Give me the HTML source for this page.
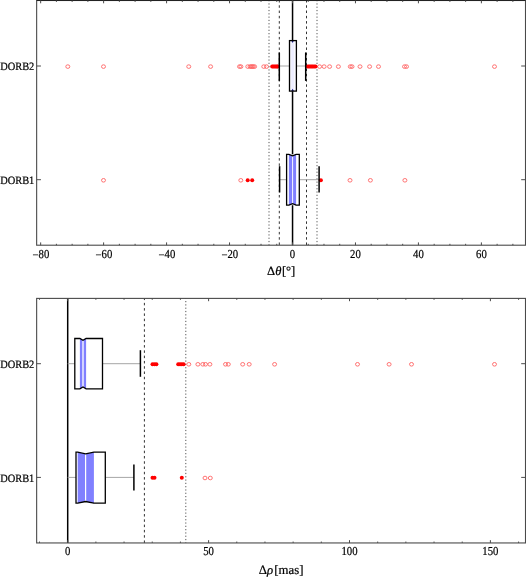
<!DOCTYPE html>
<html><head><meta charset="utf-8"><style>
html,body{margin:0;padding:0;background:#fff;}
body{width:526px;height:577px;overflow:hidden;}
svg{display:block;will-change:transform;}
text{font-family:"Liberation Serif",serif;fill:#000;stroke:#000;stroke-width:0.22px;text-rendering:geometricPrecision;}
</style></head><body>
<svg width="526" height="577" viewBox="0 0 526 577">
<line x1="269" y1="0.5" x2="269" y2="245.2" stroke="#555" stroke-width="1.0" stroke-dasharray="1.2 2.1" stroke-dashoffset="0.45"/>
<line x1="317" y1="0.5" x2="317" y2="245.2" stroke="#555" stroke-width="1.0" stroke-dasharray="1.2 2.1" stroke-dashoffset="0.45"/>
<line x1="279.3" y1="0.5" x2="279.3" y2="245.2" stroke="#333" stroke-width="1.0" stroke-dasharray="2.5 2.77" stroke-dashoffset="0.48"/>
<line x1="306.5" y1="0.5" x2="306.5" y2="245.2" stroke="#333" stroke-width="1.0" stroke-dasharray="2.5 2.77" stroke-dashoffset="0.48"/>
<line x1="292.55" y1="0.5" x2="292.55" y2="245.2" stroke="#000" stroke-width="1.5"/>
<line x1="279.3" y1="66" x2="305.7" y2="66" stroke="#a6a6a6" stroke-width="1.0"/>
<ellipse cx="67.8" cy="66.6" rx="2.0" ry="1.8" fill="none" stroke="#ff6464" stroke-width="0.9"/>
<ellipse cx="103.5" cy="66.6" rx="2.0" ry="1.8" fill="none" stroke="#ff6464" stroke-width="0.9"/>
<ellipse cx="188.75" cy="66.6" rx="2.0" ry="1.8" fill="none" stroke="#ff6464" stroke-width="0.9"/>
<ellipse cx="210.6" cy="66.6" rx="2.0" ry="1.8" fill="none" stroke="#ff6464" stroke-width="0.9"/>
<ellipse cx="239.5" cy="66.6" rx="2.0" ry="1.8" fill="none" stroke="#ff6464" stroke-width="0.9"/>
<ellipse cx="240.9" cy="66.6" rx="2.0" ry="1.8" fill="none" stroke="#ff6464" stroke-width="0.9"/>
<ellipse cx="247.8" cy="66.6" rx="2.0" ry="1.8" fill="none" stroke="#ff6464" stroke-width="0.9"/>
<ellipse cx="250.1" cy="66.6" rx="2.0" ry="1.8" fill="none" stroke="#ff6464" stroke-width="0.9"/>
<ellipse cx="251.3" cy="66.6" rx="2.0" ry="1.8" fill="none" stroke="#ff6464" stroke-width="0.9"/>
<ellipse cx="252.3" cy="66.6" rx="2.0" ry="1.8" fill="none" stroke="#ff6464" stroke-width="0.9"/>
<ellipse cx="253.3" cy="66.6" rx="2.0" ry="1.8" fill="none" stroke="#ff6464" stroke-width="0.9"/>
<ellipse cx="254.6" cy="66.6" rx="2.0" ry="1.8" fill="none" stroke="#ff6464" stroke-width="0.9"/>
<ellipse cx="263.8" cy="66.6" rx="2.0" ry="1.8" fill="none" stroke="#ff6464" stroke-width="0.9"/>
<ellipse cx="266.5" cy="66.6" rx="2.0" ry="1.8" fill="none" stroke="#ff6464" stroke-width="0.9"/>
<ellipse cx="319.6" cy="66.6" rx="2.0" ry="1.8" fill="none" stroke="#ff6464" stroke-width="0.9"/>
<ellipse cx="324.1" cy="66.6" rx="2.0" ry="1.8" fill="none" stroke="#ff6464" stroke-width="0.9"/>
<ellipse cx="329.6" cy="66.6" rx="2.0" ry="1.8" fill="none" stroke="#ff6464" stroke-width="0.9"/>
<ellipse cx="338.4" cy="66.6" rx="2.0" ry="1.8" fill="none" stroke="#ff6464" stroke-width="0.9"/>
<ellipse cx="350.3" cy="66.6" rx="2.0" ry="1.8" fill="none" stroke="#ff6464" stroke-width="0.9"/>
<ellipse cx="352" cy="66.6" rx="2.0" ry="1.8" fill="none" stroke="#ff6464" stroke-width="0.9"/>
<ellipse cx="360" cy="66.6" rx="2.0" ry="1.8" fill="none" stroke="#ff6464" stroke-width="0.9"/>
<ellipse cx="369.6" cy="66.6" rx="2.0" ry="1.8" fill="none" stroke="#ff6464" stroke-width="0.9"/>
<ellipse cx="378.5" cy="66.6" rx="2.0" ry="1.8" fill="none" stroke="#ff6464" stroke-width="0.9"/>
<ellipse cx="404.5" cy="66.6" rx="2.0" ry="1.8" fill="none" stroke="#ff6464" stroke-width="0.9"/>
<ellipse cx="406.5" cy="66.6" rx="2.0" ry="1.8" fill="none" stroke="#ff6464" stroke-width="0.9"/>
<ellipse cx="494.5" cy="66.6" rx="2.0" ry="1.8" fill="none" stroke="#ff6464" stroke-width="0.9"/>
<circle cx="272.2" cy="66.45" r="2" fill="#ff0000"/>
<circle cx="273.4" cy="66.45" r="2" fill="#ff0000"/>
<circle cx="274.6" cy="66.45" r="2" fill="#ff0000"/>
<circle cx="275.8" cy="66.45" r="2" fill="#ff0000"/>
<circle cx="277" cy="66.45" r="2" fill="#ff0000"/>
<circle cx="277.7" cy="66.45" r="2" fill="#ff0000"/>
<circle cx="307.7" cy="66.45" r="2" fill="#ff0000"/>
<circle cx="309" cy="66.45" r="2" fill="#ff0000"/>
<circle cx="310.3" cy="66.45" r="2" fill="#ff0000"/>
<circle cx="311.6" cy="66.45" r="2" fill="#ff0000"/>
<circle cx="312.9" cy="66.45" r="2" fill="#ff0000"/>
<circle cx="314.2" cy="66.45" r="2" fill="#ff0000"/>
<circle cx="315.5" cy="66.45" r="2" fill="#ff0000"/>
<line x1="279.3" y1="52.4" x2="279.3" y2="80.9" stroke="#000" stroke-width="1.5"/>
<line x1="305.7" y1="52.4" x2="305.7" y2="80.9" stroke="#000" stroke-width="1.5"/>
<rect x="289.5" y="40.6" width="6.9" height="50.5" fill="#f9f9ff"/>
<rect x="291.3" y="40.6" width="2.6" height="50.5" fill="#ededff"/>
<path d="M291.3,40.6 L292.6,42.9 L293.9,40.6 Z" fill="#1c1c88"/>
<path d="M291.3,91.1 L292.6,88.8 L293.9,91.1 Z" fill="#1c1c88"/>
<rect x="289.5" y="40.6" width="6.9" height="50.5" fill="none" stroke="#000" stroke-width="1.3"/>
<line x1="279.6" y1="179.7" x2="319.1" y2="179.7" stroke="#a6a6a6" stroke-width="1.0"/>
<ellipse cx="103.5" cy="180.3" rx="2.0" ry="1.8" fill="none" stroke="#ff6464" stroke-width="0.9"/>
<ellipse cx="240.8" cy="180.3" rx="2.0" ry="1.8" fill="none" stroke="#ff6464" stroke-width="0.9"/>
<ellipse cx="350" cy="180.3" rx="2.0" ry="1.8" fill="none" stroke="#ff6464" stroke-width="0.9"/>
<ellipse cx="370.4" cy="180.3" rx="2.0" ry="1.8" fill="none" stroke="#ff6464" stroke-width="0.9"/>
<ellipse cx="404.9" cy="180.3" rx="2.0" ry="1.8" fill="none" stroke="#ff6464" stroke-width="0.9"/>
<circle cx="247.7" cy="180.15" r="2" fill="#ff0000"/>
<circle cx="252.2" cy="180.15" r="2" fill="#ff0000"/>
<circle cx="320.9" cy="180.15" r="2" fill="#ff0000"/>
<line x1="279.6" y1="166.2" x2="279.6" y2="192.5" stroke="#000" stroke-width="1.5"/>
<line x1="319.1" y1="166.2" x2="319.1" y2="192.5" stroke="#000" stroke-width="1.5"/>
<rect x="286.6" y="154.3" width="12.7" height="50.9" fill="#fff"/>
<path d="M288.9,154.3 L292.6,155.9 L296.1,154.3 L296.1,205.2 L292.6,203.6 L288.9,205.2 Z" fill="#8080ff"/>
<line x1="292.6" y1="155.9" x2="292.6" y2="203.6" stroke="#fff" stroke-width="0.95"/>
<path d="M286.6,154.3 L288.9,154.3 L292.6,155.9 L296.1,154.3 L299.3,154.3 L299.3,205.2 L296.1,205.2 L292.6,203.6 L288.9,205.2 L286.6,205.2 Z" fill="none" stroke="#000" stroke-width="1.3" stroke-linejoin="miter"/>
<rect x="36.65" y="0.5" width="488.85" height="244.7" fill="none" stroke="#4a4a4a" stroke-width="1.1"/>
<line x1="36.65" y1="0.5" x2="525.5" y2="0.5" stroke="#222" stroke-width="1.0"/>
<line x1="40.66" y1="245.2" x2="40.66" y2="242.4" stroke="#4a4a4a" stroke-width="1"/>
<line x1="40.66" y1="0.5" x2="40.66" y2="3.3" stroke="#4a4a4a" stroke-width="1"/>
<line x1="56.4" y1="245.2" x2="56.4" y2="243.8" stroke="#4a4a4a" stroke-width="1"/>
<line x1="56.4" y1="0.5" x2="56.4" y2="1.9" stroke="#4a4a4a" stroke-width="1"/>
<line x1="72.14" y1="245.2" x2="72.14" y2="243.8" stroke="#4a4a4a" stroke-width="1"/>
<line x1="72.14" y1="0.5" x2="72.14" y2="1.9" stroke="#4a4a4a" stroke-width="1"/>
<line x1="87.88" y1="245.2" x2="87.88" y2="243.8" stroke="#4a4a4a" stroke-width="1"/>
<line x1="87.88" y1="0.5" x2="87.88" y2="1.9" stroke="#4a4a4a" stroke-width="1"/>
<line x1="103.62" y1="245.2" x2="103.62" y2="242.4" stroke="#4a4a4a" stroke-width="1"/>
<line x1="103.62" y1="0.5" x2="103.62" y2="3.3" stroke="#4a4a4a" stroke-width="1"/>
<line x1="119.36" y1="245.2" x2="119.36" y2="243.8" stroke="#4a4a4a" stroke-width="1"/>
<line x1="119.36" y1="0.5" x2="119.36" y2="1.9" stroke="#4a4a4a" stroke-width="1"/>
<line x1="135.1" y1="245.2" x2="135.1" y2="243.8" stroke="#4a4a4a" stroke-width="1"/>
<line x1="135.1" y1="0.5" x2="135.1" y2="1.9" stroke="#4a4a4a" stroke-width="1"/>
<line x1="150.84" y1="245.2" x2="150.84" y2="243.8" stroke="#4a4a4a" stroke-width="1"/>
<line x1="150.84" y1="0.5" x2="150.84" y2="1.9" stroke="#4a4a4a" stroke-width="1"/>
<line x1="166.58" y1="245.2" x2="166.58" y2="242.4" stroke="#4a4a4a" stroke-width="1"/>
<line x1="166.58" y1="0.5" x2="166.58" y2="3.3" stroke="#4a4a4a" stroke-width="1"/>
<line x1="182.32" y1="245.2" x2="182.32" y2="243.8" stroke="#4a4a4a" stroke-width="1"/>
<line x1="182.32" y1="0.5" x2="182.32" y2="1.9" stroke="#4a4a4a" stroke-width="1"/>
<line x1="198.06" y1="245.2" x2="198.06" y2="243.8" stroke="#4a4a4a" stroke-width="1"/>
<line x1="198.06" y1="0.5" x2="198.06" y2="1.9" stroke="#4a4a4a" stroke-width="1"/>
<line x1="213.8" y1="245.2" x2="213.8" y2="243.8" stroke="#4a4a4a" stroke-width="1"/>
<line x1="213.8" y1="0.5" x2="213.8" y2="1.9" stroke="#4a4a4a" stroke-width="1"/>
<line x1="229.54" y1="245.2" x2="229.54" y2="242.4" stroke="#4a4a4a" stroke-width="1"/>
<line x1="229.54" y1="0.5" x2="229.54" y2="3.3" stroke="#4a4a4a" stroke-width="1"/>
<line x1="245.28" y1="245.2" x2="245.28" y2="243.8" stroke="#4a4a4a" stroke-width="1"/>
<line x1="245.28" y1="0.5" x2="245.28" y2="1.9" stroke="#4a4a4a" stroke-width="1"/>
<line x1="261.02" y1="245.2" x2="261.02" y2="243.8" stroke="#4a4a4a" stroke-width="1"/>
<line x1="261.02" y1="0.5" x2="261.02" y2="1.9" stroke="#4a4a4a" stroke-width="1"/>
<line x1="276.76" y1="245.2" x2="276.76" y2="243.8" stroke="#4a4a4a" stroke-width="1"/>
<line x1="276.76" y1="0.5" x2="276.76" y2="1.9" stroke="#4a4a4a" stroke-width="1"/>
<line x1="292.5" y1="245.2" x2="292.5" y2="242.4" stroke="#4a4a4a" stroke-width="1"/>
<line x1="292.5" y1="0.5" x2="292.5" y2="3.3" stroke="#4a4a4a" stroke-width="1"/>
<line x1="308.24" y1="245.2" x2="308.24" y2="243.8" stroke="#4a4a4a" stroke-width="1"/>
<line x1="308.24" y1="0.5" x2="308.24" y2="1.9" stroke="#4a4a4a" stroke-width="1"/>
<line x1="323.98" y1="245.2" x2="323.98" y2="243.8" stroke="#4a4a4a" stroke-width="1"/>
<line x1="323.98" y1="0.5" x2="323.98" y2="1.9" stroke="#4a4a4a" stroke-width="1"/>
<line x1="339.72" y1="245.2" x2="339.72" y2="243.8" stroke="#4a4a4a" stroke-width="1"/>
<line x1="339.72" y1="0.5" x2="339.72" y2="1.9" stroke="#4a4a4a" stroke-width="1"/>
<line x1="355.46" y1="245.2" x2="355.46" y2="242.4" stroke="#4a4a4a" stroke-width="1"/>
<line x1="355.46" y1="0.5" x2="355.46" y2="3.3" stroke="#4a4a4a" stroke-width="1"/>
<line x1="371.2" y1="245.2" x2="371.2" y2="243.8" stroke="#4a4a4a" stroke-width="1"/>
<line x1="371.2" y1="0.5" x2="371.2" y2="1.9" stroke="#4a4a4a" stroke-width="1"/>
<line x1="386.94" y1="245.2" x2="386.94" y2="243.8" stroke="#4a4a4a" stroke-width="1"/>
<line x1="386.94" y1="0.5" x2="386.94" y2="1.9" stroke="#4a4a4a" stroke-width="1"/>
<line x1="402.68" y1="245.2" x2="402.68" y2="243.8" stroke="#4a4a4a" stroke-width="1"/>
<line x1="402.68" y1="0.5" x2="402.68" y2="1.9" stroke="#4a4a4a" stroke-width="1"/>
<line x1="418.42" y1="245.2" x2="418.42" y2="242.4" stroke="#4a4a4a" stroke-width="1"/>
<line x1="418.42" y1="0.5" x2="418.42" y2="3.3" stroke="#4a4a4a" stroke-width="1"/>
<line x1="434.16" y1="245.2" x2="434.16" y2="243.8" stroke="#4a4a4a" stroke-width="1"/>
<line x1="434.16" y1="0.5" x2="434.16" y2="1.9" stroke="#4a4a4a" stroke-width="1"/>
<line x1="449.9" y1="245.2" x2="449.9" y2="243.8" stroke="#4a4a4a" stroke-width="1"/>
<line x1="449.9" y1="0.5" x2="449.9" y2="1.9" stroke="#4a4a4a" stroke-width="1"/>
<line x1="465.64" y1="245.2" x2="465.64" y2="243.8" stroke="#4a4a4a" stroke-width="1"/>
<line x1="465.64" y1="0.5" x2="465.64" y2="1.9" stroke="#4a4a4a" stroke-width="1"/>
<line x1="481.38" y1="245.2" x2="481.38" y2="242.4" stroke="#4a4a4a" stroke-width="1"/>
<line x1="481.38" y1="0.5" x2="481.38" y2="3.3" stroke="#4a4a4a" stroke-width="1"/>
<line x1="497.12" y1="245.2" x2="497.12" y2="243.8" stroke="#4a4a4a" stroke-width="1"/>
<line x1="497.12" y1="0.5" x2="497.12" y2="1.9" stroke="#4a4a4a" stroke-width="1"/>
<line x1="512.86" y1="245.2" x2="512.86" y2="243.8" stroke="#4a4a4a" stroke-width="1"/>
<line x1="512.86" y1="0.5" x2="512.86" y2="1.9" stroke="#4a4a4a" stroke-width="1"/>
<line x1="36.65" y1="66" x2="40.95" y2="66" stroke="#4a4a4a" stroke-width="1"/>
<line x1="525.5" y1="66" x2="521.2" y2="66" stroke="#4a4a4a" stroke-width="1"/>
<text transform="translate(34.3,70.05) scale(0.93,1)" font-size="11.2" text-anchor="end">DORB2</text>
<line x1="36.65" y1="179.7" x2="40.95" y2="179.7" stroke="#4a4a4a" stroke-width="1"/>
<line x1="525.5" y1="179.7" x2="521.2" y2="179.7" stroke="#4a4a4a" stroke-width="1"/>
<text transform="translate(34.3,183.75) scale(0.93,1)" font-size="11.2" text-anchor="end">DORB1</text>
<text transform="translate(40.96,257.5) scale(0.88,1)" font-size="12.2" text-anchor="middle"><tspan dy="1">−</tspan><tspan dy="-1">80</tspan></text>
<text transform="translate(103.92,257.5) scale(0.88,1)" font-size="12.2" text-anchor="middle"><tspan dy="1">−</tspan><tspan dy="-1">60</tspan></text>
<text transform="translate(166.88,257.5) scale(0.88,1)" font-size="12.2" text-anchor="middle"><tspan dy="1">−</tspan><tspan dy="-1">40</tspan></text>
<text transform="translate(229.84,257.5) scale(0.88,1)" font-size="12.2" text-anchor="middle"><tspan dy="1">−</tspan><tspan dy="-1">20</tspan></text>
<text transform="translate(292.5,257.5) scale(0.88,1)" font-size="12.2" text-anchor="middle">0</text>
<text transform="translate(355.46,257.5) scale(0.88,1)" font-size="12.2" text-anchor="middle">20</text>
<text transform="translate(418.42,257.5) scale(0.88,1)" font-size="12.2" text-anchor="middle">40</text>
<text transform="translate(481.38,257.5) scale(0.88,1)" font-size="12.2" text-anchor="middle">60</text>
<text x="267.1" y="275.2" font-size="12.6">Δ<tspan font-style="italic">θ</tspan><tspan dx="0.5">[°]</tspan></text>
<line x1="185.8" y1="298.4" x2="185.8" y2="542.95" stroke="#555" stroke-width="1.0" stroke-dasharray="1.2 2.105" stroke-dashoffset="0.7"/>
<line x1="144.4" y1="298.4" x2="144.4" y2="542.95" stroke="#333" stroke-width="1.0" stroke-dasharray="2.5 2.78" stroke-dashoffset="0.83"/>
<line x1="67.7" y1="298.4" x2="67.7" y2="542.95" stroke="#000" stroke-width="1.5"/>
<line x1="67.7" y1="363.7" x2="140.4" y2="363.7" stroke="#a6a6a6" stroke-width="1.0"/>
<ellipse cx="188.8" cy="364.3" rx="2.0" ry="1.8" fill="none" stroke="#ff6464" stroke-width="0.9"/>
<ellipse cx="197.9" cy="364.3" rx="2.0" ry="1.8" fill="none" stroke="#ff6464" stroke-width="0.9"/>
<ellipse cx="202.8" cy="364.3" rx="2.0" ry="1.8" fill="none" stroke="#ff6464" stroke-width="0.9"/>
<ellipse cx="205.5" cy="364.3" rx="2.0" ry="1.8" fill="none" stroke="#ff6464" stroke-width="0.9"/>
<ellipse cx="209.9" cy="364.3" rx="2.0" ry="1.8" fill="none" stroke="#ff6464" stroke-width="0.9"/>
<ellipse cx="225.5" cy="364.3" rx="2.0" ry="1.8" fill="none" stroke="#ff6464" stroke-width="0.9"/>
<ellipse cx="228.3" cy="364.3" rx="2.0" ry="1.8" fill="none" stroke="#ff6464" stroke-width="0.9"/>
<ellipse cx="242.7" cy="364.3" rx="2.0" ry="1.8" fill="none" stroke="#ff6464" stroke-width="0.9"/>
<ellipse cx="249.2" cy="364.3" rx="2.0" ry="1.8" fill="none" stroke="#ff6464" stroke-width="0.9"/>
<ellipse cx="274.6" cy="364.3" rx="2.0" ry="1.8" fill="none" stroke="#ff6464" stroke-width="0.9"/>
<ellipse cx="357.5" cy="364.3" rx="2.0" ry="1.8" fill="none" stroke="#ff6464" stroke-width="0.9"/>
<ellipse cx="389.1" cy="364.3" rx="2.0" ry="1.8" fill="none" stroke="#ff6464" stroke-width="0.9"/>
<ellipse cx="411.5" cy="364.3" rx="2.0" ry="1.8" fill="none" stroke="#ff6464" stroke-width="0.9"/>
<ellipse cx="494.5" cy="364.3" rx="2.0" ry="1.8" fill="none" stroke="#ff6464" stroke-width="0.9"/>
<circle cx="152.5" cy="364.15" r="2" fill="#ff0000"/>
<circle cx="154.5" cy="364.15" r="2" fill="#ff0000"/>
<circle cx="156.4" cy="364.15" r="2" fill="#ff0000"/>
<circle cx="178.2" cy="364.15" r="2" fill="#ff0000"/>
<circle cx="180" cy="364.15" r="2" fill="#ff0000"/>
<circle cx="181.8" cy="364.15" r="2" fill="#ff0000"/>
<circle cx="183.6" cy="364.15" r="2" fill="#ff0000"/>
<line x1="140.4" y1="350.2" x2="140.4" y2="376.8" stroke="#000" stroke-width="1.5"/>
<rect x="74.8" y="338.5" width="27.7" height="50.3" fill="#fff"/>
<path d="M79.9,338.5 L83,340.3 L86.1,338.5 L86.1,388.8 L83,387 L79.9,388.8 Z" fill="#8080ff"/>
<line x1="83" y1="340.3" x2="83" y2="387" stroke="#fff" stroke-width="1.3"/>
<path d="M74.8,338.5 L79.9,338.5 L83,340.3 L86.1,338.5 L102.5,338.5 L102.5,388.8 L86.1,388.8 L83,387 L79.9,388.8 L74.8,388.8 Z" fill="none" stroke="#000" stroke-width="1.3" stroke-linejoin="miter"/>
<line x1="67.7" y1="477.4" x2="133.9" y2="477.4" stroke="#a6a6a6" stroke-width="1.0"/>
<ellipse cx="205" cy="478" rx="2.0" ry="1.8" fill="none" stroke="#ff6464" stroke-width="0.9"/>
<ellipse cx="210.3" cy="478" rx="2.0" ry="1.8" fill="none" stroke="#ff6464" stroke-width="0.9"/>
<circle cx="152.5" cy="477.85" r="2" fill="#ff0000"/>
<circle cx="154.5" cy="477.85" r="2" fill="#ff0000"/>
<circle cx="181.8" cy="477.85" r="2" fill="#ff0000"/>
<line x1="133.9" y1="464.4" x2="133.9" y2="490.6" stroke="#000" stroke-width="1.5"/>
<rect x="76" y="452.2" width="29.3" height="51" fill="#fff"/>
<path d="M77.7,452.2 L85.6,453.9 L93.9,452.2 L93.9,503.2 L85.6,501.5 L77.7,503.2 Z" fill="#8080ff"/>
<line x1="85.6" y1="453.9" x2="85.6" y2="501.5" stroke="#fff" stroke-width="1.2"/>
<path d="M76,452.2 L77.7,452.2 L85.6,453.9 L93.9,452.2 L105.3,452.2 L105.3,503.2 L93.9,503.2 L85.6,501.5 L77.7,503.2 L76,503.2 Z" fill="none" stroke="#000" stroke-width="1.3" stroke-linejoin="miter"/>
<rect x="36.65" y="298.4" width="488.85" height="244.55" fill="none" stroke="#4a4a4a" stroke-width="1.1"/>
<line x1="39.52" y1="542.95" x2="39.52" y2="541.55" stroke="#4a4a4a" stroke-width="1"/>
<line x1="39.52" y1="298.4" x2="39.52" y2="299.8" stroke="#4a4a4a" stroke-width="1"/>
<line x1="67.7" y1="542.95" x2="67.7" y2="540.15" stroke="#4a4a4a" stroke-width="1"/>
<line x1="67.7" y1="298.4" x2="67.7" y2="301.2" stroke="#4a4a4a" stroke-width="1"/>
<line x1="95.88" y1="542.95" x2="95.88" y2="541.55" stroke="#4a4a4a" stroke-width="1"/>
<line x1="95.88" y1="298.4" x2="95.88" y2="299.8" stroke="#4a4a4a" stroke-width="1"/>
<line x1="124.06" y1="542.95" x2="124.06" y2="541.55" stroke="#4a4a4a" stroke-width="1"/>
<line x1="124.06" y1="298.4" x2="124.06" y2="299.8" stroke="#4a4a4a" stroke-width="1"/>
<line x1="152.24" y1="542.95" x2="152.24" y2="541.55" stroke="#4a4a4a" stroke-width="1"/>
<line x1="152.24" y1="298.4" x2="152.24" y2="299.8" stroke="#4a4a4a" stroke-width="1"/>
<line x1="180.42" y1="542.95" x2="180.42" y2="541.55" stroke="#4a4a4a" stroke-width="1"/>
<line x1="180.42" y1="298.4" x2="180.42" y2="299.8" stroke="#4a4a4a" stroke-width="1"/>
<line x1="208.6" y1="542.95" x2="208.6" y2="540.15" stroke="#4a4a4a" stroke-width="1"/>
<line x1="208.6" y1="298.4" x2="208.6" y2="301.2" stroke="#4a4a4a" stroke-width="1"/>
<line x1="236.78" y1="542.95" x2="236.78" y2="541.55" stroke="#4a4a4a" stroke-width="1"/>
<line x1="236.78" y1="298.4" x2="236.78" y2="299.8" stroke="#4a4a4a" stroke-width="1"/>
<line x1="264.96" y1="542.95" x2="264.96" y2="541.55" stroke="#4a4a4a" stroke-width="1"/>
<line x1="264.96" y1="298.4" x2="264.96" y2="299.8" stroke="#4a4a4a" stroke-width="1"/>
<line x1="293.14" y1="542.95" x2="293.14" y2="541.55" stroke="#4a4a4a" stroke-width="1"/>
<line x1="293.14" y1="298.4" x2="293.14" y2="299.8" stroke="#4a4a4a" stroke-width="1"/>
<line x1="321.32" y1="542.95" x2="321.32" y2="541.55" stroke="#4a4a4a" stroke-width="1"/>
<line x1="321.32" y1="298.4" x2="321.32" y2="299.8" stroke="#4a4a4a" stroke-width="1"/>
<line x1="349.5" y1="542.95" x2="349.5" y2="540.15" stroke="#4a4a4a" stroke-width="1"/>
<line x1="349.5" y1="298.4" x2="349.5" y2="301.2" stroke="#4a4a4a" stroke-width="1"/>
<line x1="377.68" y1="542.95" x2="377.68" y2="541.55" stroke="#4a4a4a" stroke-width="1"/>
<line x1="377.68" y1="298.4" x2="377.68" y2="299.8" stroke="#4a4a4a" stroke-width="1"/>
<line x1="405.86" y1="542.95" x2="405.86" y2="541.55" stroke="#4a4a4a" stroke-width="1"/>
<line x1="405.86" y1="298.4" x2="405.86" y2="299.8" stroke="#4a4a4a" stroke-width="1"/>
<line x1="434.04" y1="542.95" x2="434.04" y2="541.55" stroke="#4a4a4a" stroke-width="1"/>
<line x1="434.04" y1="298.4" x2="434.04" y2="299.8" stroke="#4a4a4a" stroke-width="1"/>
<line x1="462.22" y1="542.95" x2="462.22" y2="541.55" stroke="#4a4a4a" stroke-width="1"/>
<line x1="462.22" y1="298.4" x2="462.22" y2="299.8" stroke="#4a4a4a" stroke-width="1"/>
<line x1="490.4" y1="542.95" x2="490.4" y2="540.15" stroke="#4a4a4a" stroke-width="1"/>
<line x1="490.4" y1="298.4" x2="490.4" y2="301.2" stroke="#4a4a4a" stroke-width="1"/>
<line x1="518.58" y1="542.95" x2="518.58" y2="541.55" stroke="#4a4a4a" stroke-width="1"/>
<line x1="518.58" y1="298.4" x2="518.58" y2="299.8" stroke="#4a4a4a" stroke-width="1"/>
<line x1="36.65" y1="363.7" x2="40.95" y2="363.7" stroke="#4a4a4a" stroke-width="1"/>
<line x1="525.5" y1="363.7" x2="521.2" y2="363.7" stroke="#4a4a4a" stroke-width="1"/>
<text transform="translate(34.3,368.15) scale(0.93,1)" font-size="11.2" text-anchor="end">DORB2</text>
<line x1="36.65" y1="477.4" x2="40.95" y2="477.4" stroke="#4a4a4a" stroke-width="1"/>
<line x1="525.5" y1="477.4" x2="521.2" y2="477.4" stroke="#4a4a4a" stroke-width="1"/>
<text transform="translate(34.3,481.85) scale(0.93,1)" font-size="11.2" text-anchor="end">DORB1</text>
<text transform="translate(67.7,554.9) scale(0.88,1)" font-size="12.2" text-anchor="middle">0</text>
<text transform="translate(208.6,554.9) scale(0.88,1)" font-size="12.2" text-anchor="middle">50</text>
<text transform="translate(349.5,554.9) scale(0.88,1)" font-size="12.2" text-anchor="middle">100</text>
<text transform="translate(490.4,554.9) scale(0.88,1)" font-size="12.2" text-anchor="middle">150</text>
<text x="258.7" y="573.6" font-size="12.8">Δ<tspan font-style="italic">ρ</tspan><tspan dx="1.2">[mas]</tspan></text>
</svg>
</body></html>
